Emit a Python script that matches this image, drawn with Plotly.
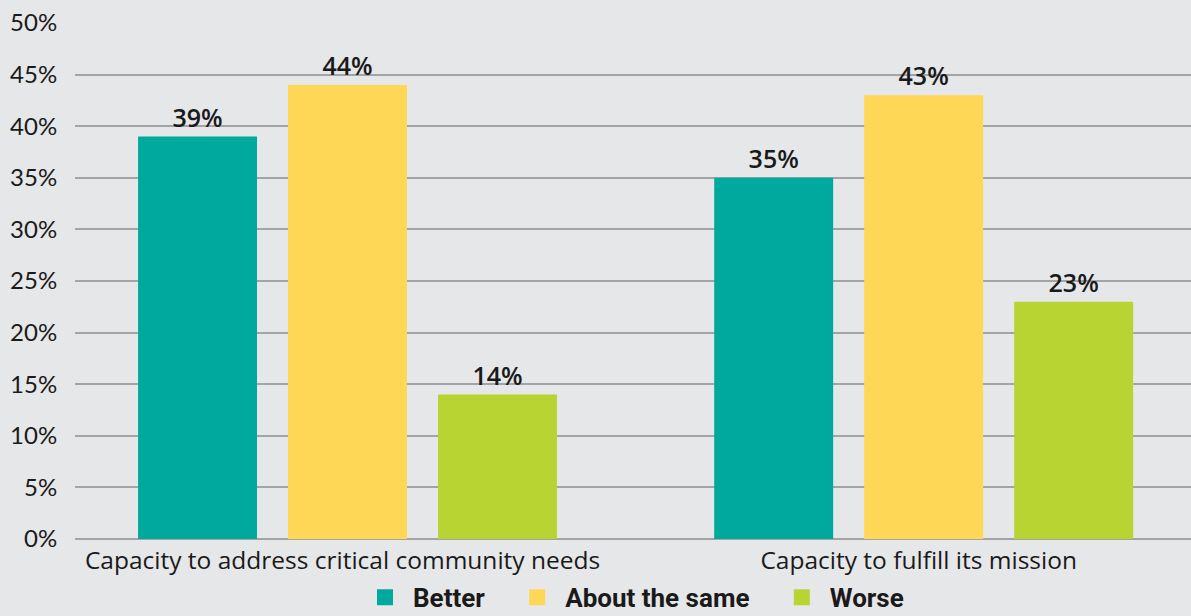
import plotly.graph_objects as go

categories = ["Capacity to address critical community needs", "Capacity to fulfill its mission"]
better = [39, 35]
about_same = [44, 43]
worse = [14, 23]
series_names = ["Better", "About the same", "Worse"]
colors = ["#00a99d", "#ffd757", "#b8d433"]
tick_values = [0, 5, 10, 15, 20, 25, 30, 35, 40, 45, 50]
tick_text = [f"{v}%" for v in tick_values]

fig = go.Figure()
for name, vals, col in zip(series_names, [better, about_same, worse], colors):
    fig.add_trace(go.Bar(
        x=categories, y=vals, name=name, showlegend=False,
        marker=dict(color=col, line=dict(width=0)),
        text=[f"{v}%" for v in vals], textposition="outside",
        textfont=dict(family="Open Sans", size=25, color="#1a1a1a", weight=600),
        cliponaxis=False,
    ))

# legend entries drawn as square markers; trailing spaces widen the gap between items
pad = "\u00a0" * 3
for i, (name, col) in enumerate(zip(series_names, colors)):
    label = f"<b>{name}</b>" + (pad if i < len(series_names) - 1 else "")
    fig.add_trace(go.Scatter(
        x=[None], y=[None], mode="markers", name=label,
        marker=dict(symbol="square", size=21, color=col),
    ))

fig.update_layout(
    width=1191, height=616,
    margin=dict(l=75, r=0, t=23, b=77, autoexpand=False),
    paper_bgcolor="#e6e7e9", plot_bgcolor="#e6e7e9",
    barmode="group", bargap=0.219, bargroupgap=0.207,
    showlegend=True,
    legend=dict(orientation="h", x=0.5, xanchor="center",
                y=-0.113, yanchor="middle",
                font=dict(family="Roboto", size=26, color="#1a1a1a"),
                itemwidth=46, traceorder="normal", bgcolor="rgba(0,0,0,0)"),
    xaxis=dict(range=[-0.473, 1.464], showgrid=False, showline=False, zeroline=False,
               automargin=False, ticklabelshift=-5,
               tickfont=dict(family="Open Sans", size=24.5, color="#1a1a1a"),
               ticks="outside", ticklen=0, tickcolor="rgba(0,0,0,0)"),
    yaxis=dict(range=[0, 50], tickvals=tick_values, ticktext=tick_text,
               automargin=False,
               showgrid=True, gridcolor="#a3a4a6", gridwidth=1.5,
               zeroline=True, zerolinecolor="#a3a4a6", zerolinewidth=1.5,
               showline=False,
               tickfont=dict(family="Lato", size=24, color="#1a1a1a"),
               ticks="outside", ticklen=12, tickcolor="rgba(0,0,0,0)"),
)

fig.write_html("out.html")
